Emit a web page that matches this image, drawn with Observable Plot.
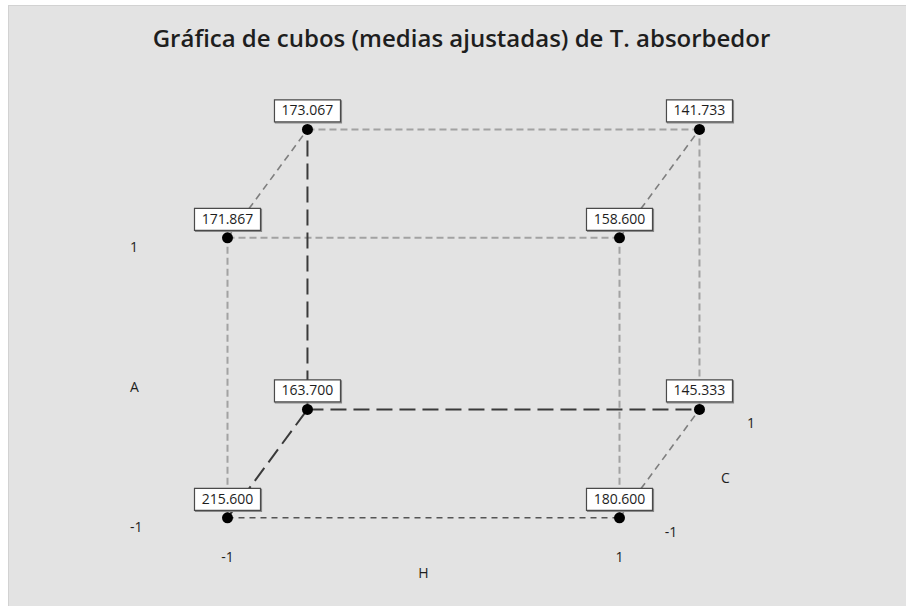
<!DOCTYPE html>
<html>
<head>
<meta charset="utf-8">
<script src="https://cdn.jsdelivr.net/npm/d3@7"></script>
<script src="https://cdn.jsdelivr.net/npm/@observablehq/plot@0.6"></script>
<style>
  html, body { margin: 0; padding: 0; background: #ffffff; }
  #frame {
    position: absolute; left: 8px; top: 5px; width: 898px; height: 601px;
    box-sizing: border-box; background: #e3e3e3;
    border-top: 1px solid #d2d2d2; border-left: 1px solid #d2d2d2;
    overflow: hidden;
  }
  #title {
    box-sizing: border-box; height: 70px; padding-top: 19.7px; padding-left: 8px;
    text-align: center; font-family: "Open Sans", sans-serif; font-weight: 600;
    font-size: 24px; line-height: 1; color: #1e1e1e; white-space: nowrap;
  }
  #chart svg { display: block; background: transparent; }
</style>
</head>
<body>
<div id="frame">
  <div id="title">Gráfica de cubos (medias ajustadas) de T. absorbedor</div>
  <div id="chart"></div>
</div>
<script>
// ---- data ----
const factorH = [-1, 1, -1, 1, -1, 1, -1, 1];
const factorA = [-1, -1, 1, 1, -1, -1, 1, 1];
const factorC = [-1, -1, -1, -1, 1, 1, 1, 1];
const means = [215.600, 180.600, 171.867, 158.600, 163.700, 145.333, 173.067, 141.733];
const levelTicks = [-1, 1];
const tickLabels = ["-1", "1"];
const axisNames = ["H", "A", "C"];

// ---- oblique projection of the C (depth) factor ----
const depthX = 0.204;  // H units per C unit
const depthY = 0.387;  // A units per C unit
const projX = (h, c) => h + depthX * (c + 1);
const projY = (a, c) => a + depthY * (c + 1);

const corners = means.map((m, i) => ({
  h: factorH[i], a: factorA[i], c: factorC[i], mean: m,
  label: m.toFixed(3)
}));
corners.forEach(d => { d.px = projX(d.h, d.c); d.py = projY(d.a, d.c); });

// cube edges: corners that differ in exactly one factor
const edges = [];
for (let i = 0; i < corners.length; i++) {
  for (let j = i + 1; j < corners.length; j++) {
    const p = corners[i], q = corners[j];
    const diff = (p.h !== q.h) + (p.a !== q.a) + (p.c !== q.c);
    if (diff !== 1) continue;
    const hidden = [p, q].some(d => d.h === -1 && d.a === -1 && d.c === 1);
    let kind;
    if (hidden) kind = "hidden";
    else if (p.c !== q.c) kind = "depth";
    else if (p.a === -1 && q.a === -1 && p.c === -1) kind = "frontBottom";
    else kind = "light";
    edges.push({ x1: p.px, y1: p.py, x2: q.px, y2: q.py, kind });
  }
}
const ofKind = k => edges.filter(e => e.kind === k);

const hLabels = levelTicks.map((v, i) => ({ v, t: tickLabels[i] }));
const boxSymbol = { draw(ctx) { ctx.rect(-33, -11, 66, 22); } };
const font = "Open Sans, sans-serif";

const chart = Plot.plot({
  width: 897,
  height: 530,
  x: { domain: [-1, 1], range: [218, 610] },
  y: { domain: [-1, 1], range: [441.3, 161.3] },
  axis: null,
  style: { background: "transparent", fontFamily: font },
  marks: [
    Plot.link(ofKind("light"), { x1: "x1", y1: "y1", x2: "x2", y2: "y2", stroke: "#a2a2a2", strokeWidth: 2, strokeDasharray: "7,4" }),
    Plot.link(ofKind("depth"), { x1: "x1", y1: "y1", x2: "x2", y2: "y2", stroke: "#7e7e7e", strokeWidth: 1.6, strokeDasharray: "7,5" }),
    Plot.link(ofKind("frontBottom"), { x1: "x1", y1: "y1", x2: "x2", y2: "y2", stroke: "#555555", strokeWidth: 1.6, strokeDasharray: "6,5" }),
    Plot.link(ofKind("hidden"), { x1: "x1", y1: "y1", x2: "x2", y2: "y2", stroke: "#3a3a3a", strokeWidth: 2, strokeDasharray: "16,7" }),
    Plot.dot(corners, { x: "px", y: "py", r: 5.5, fill: "#000000", stroke: "none" }),
    // label boxes
    Plot.dot(corners, { x: "px", y: "py", symbol: boxSymbol, fill: "none", stroke: "#8a8a8a", strokeWidth: 1.2, dx: 1, dy: -17.5 }),
    Plot.dot(corners, { x: "px", y: "py", symbol: boxSymbol, fill: "#ffffff", stroke: "#4a4a4a", strokeWidth: 1.2, dy: -18.5 }),
    Plot.text(corners, { x: "px", y: "py", text: "label", dy: -18.5, fontSize: 14, fill: "#1e1e1e", textAnchor: "middle" }),
    // A axis
    Plot.text(hLabels, { x: () => -1, y: "v", text: "t", dx: -97.5, dy: 10, textAnchor: "start", fontSize: 14, fill: "#1e1e1e" }),
    Plot.text([axisNames[1]], { x: () => -1, y: () => 0, text: d => d, dx: -97.5, dy: 10, textAnchor: "start", fontSize: 14, fill: "#1e1e1e" }),
    // H axis
    Plot.text(hLabels, { x: "v", y: () => -1, text: "t", dy: 40, fontSize: 14, fill: "#1e1e1e" }),
    Plot.text([axisNames[0]], { x: () => 0, y: () => -1, text: d => d, dy: 56, fontSize: 14, fill: "#1e1e1e" }),
    // C axis
    Plot.text(hLabels, { x: d => projX(1, d.v), y: d => projY(-1, d.v), text: "t", dx: 51.5, dy: 14.5, fontSize: 14, fill: "#1e1e1e" }),
    Plot.text([axisNames[2]], { x: () => projX(1, 0), y: () => projY(-1, 0), text: d => d, dx: 66, dy: 14.5, fontSize: 14, fill: "#1e1e1e" })
  ]
});
document.getElementById("chart").appendChild(chart);
</script>
</body>
</html>
